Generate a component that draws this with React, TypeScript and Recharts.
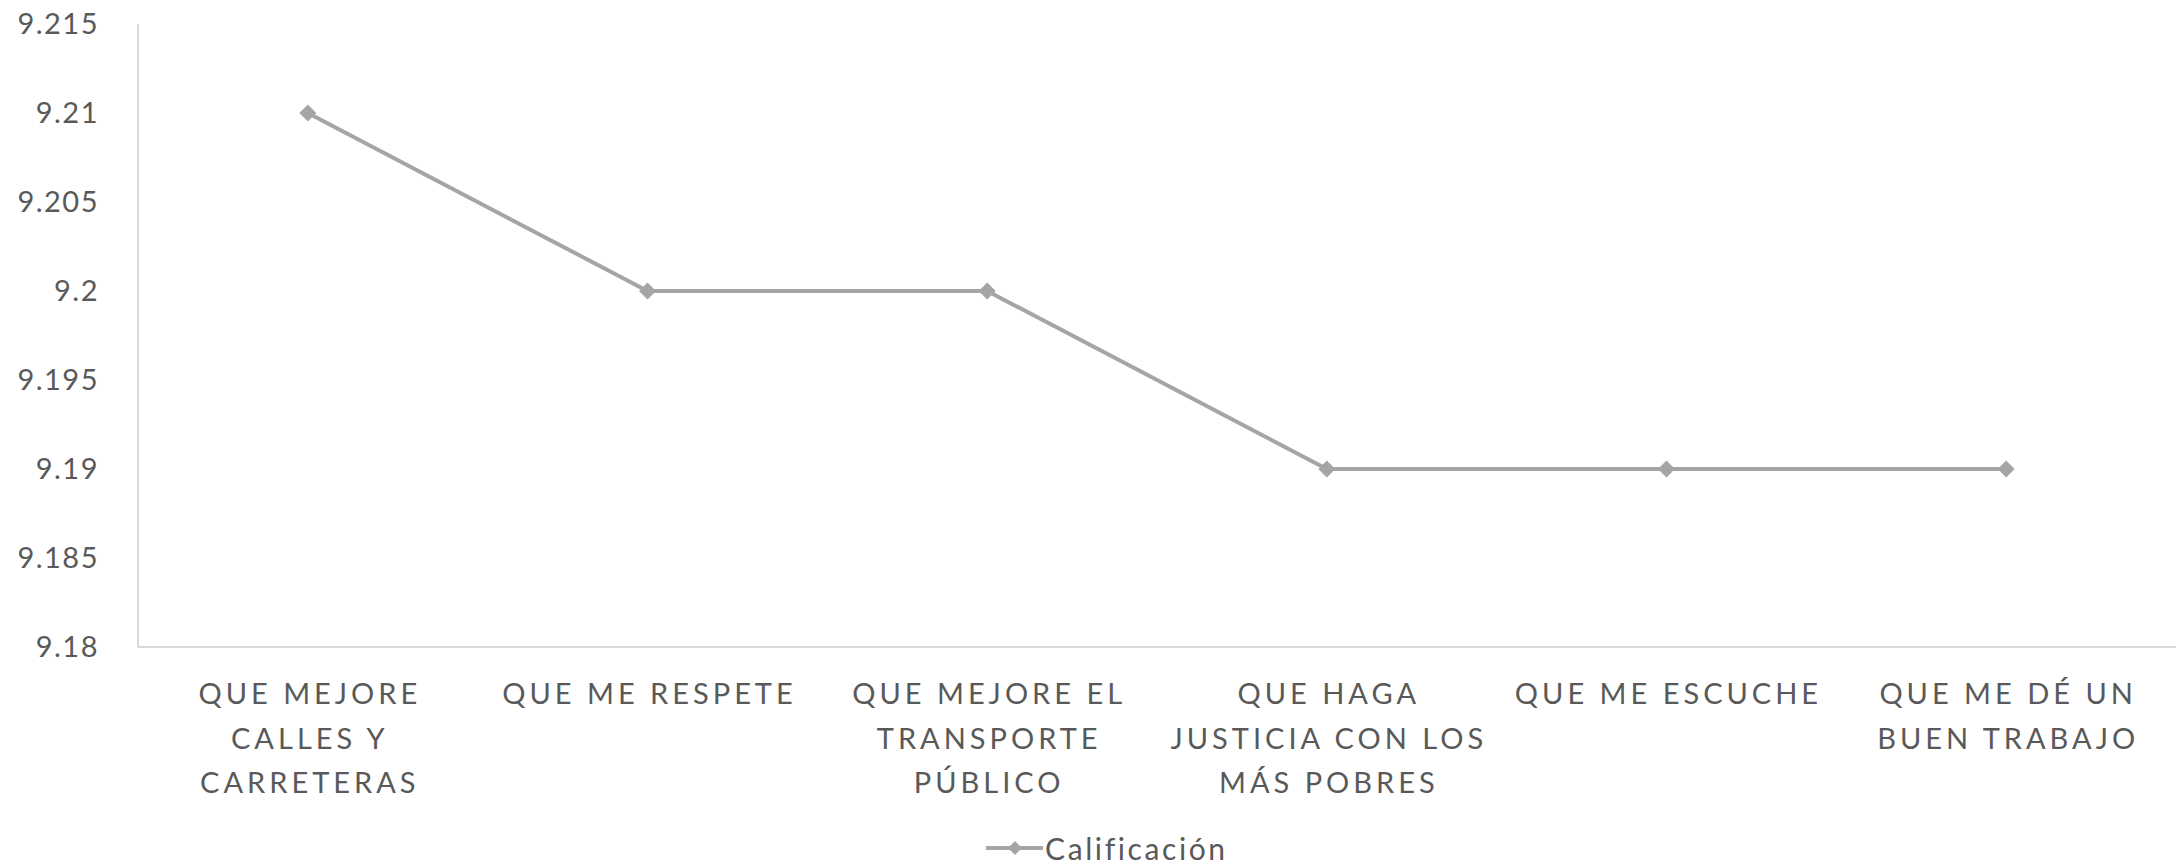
import React from "react";
import { LineChart, Line, XAxis, YAxis, Legend } from "recharts";

const categories = [
  "QUE MEJORE\nCALLES Y\nCARRETERAS",
  "QUE ME RESPETE",
  "QUE MEJORE EL\nTRANSPORTE\nPÚBLICO",
  "QUE HAGA\nJUSTICIA CON LOS\nMÁS POBRES",
  "QUE ME ESCUCHE",
  "QUE ME DÉ UN\nBUEN TRABAJO",
];
const calificacion = [9.21, 9.2, 9.2, 9.19, 9.19, 9.19];
const yTicks = [9.18, 9.185, 9.19, 9.195, 9.2, 9.205, 9.21, 9.215];
const seriesName = "Calificación";

const data = categories.map((name, i) => ({ name, value: calificacion[i] }));

const FONT = "Lato, 'Open Sans', sans-serif";
const TEXT = "#595959";
const LINE = "#A5A5A5";
const AXIS = "#D9D9D9";

// diamond marker; "size" is half the width (recharts passes its own r)
const Diamond = ({ cx, cy, size = 8.5 }: any) => {
  if (cx == null || cy == null) return null;
  return (
    <path
      d={`M${cx},${cy - size}L${cx + size},${cy}L${cx},${cy + size}L${cx - size},${cy}Z`}
      fill={LINE}
    />
  );
};

const CategoryTick = ({ x, y, payload }: any) => {
  const lines = String(payload.value).split("\n");
  return (
    <text
      x={x}
      y={y}
      textAnchor="middle"
      fill={TEXT}
      fontSize={29}
      fontFamily={FONT}
      letterSpacing={4}
    >
      {lines.map((line, i) => (
        <tspan key={i} x={x + 2} dy={i === 0 ? 57 : 44.5}>
          {line}
        </tspan>
      ))}
    </text>
  );
};

const LegendContent = () => (
  <div
    style={{
      display: "flex",
      alignItems: "center",
      height: 32,
      fontFamily: FONT,
      fontSize: 30,
      color: TEXT,
      letterSpacing: 2.6,
      whiteSpace: "nowrap",
    }}
  >
    <svg width={57} height={16} style={{ marginRight: 2 }}>
      <line x1={0} y1={8} x2={57} y2={8} stroke={LINE} strokeWidth={4} />
      <Diamond cx={29} cy={8} size={7} />
    </svg>
    <span>{seriesName}</span>
  </div>
);

export default function App() {
  return (
    <div style={{ position: "absolute", left: 0, top: 0 }}>
      <LineChart
        width={2178}
        height={866}
        data={data}
        margin={{ top: 24, right: 2, left: 0, bottom: 0 }}
      >
        <XAxis
          dataKey="name"
          scale="band"
          height={187}
          interval={0}
          axisLine={{ stroke: AXIS, strokeWidth: 2 }}
          tickLine={false}
          tickSize={0}
          tickMargin={0}
          tick={<CategoryTick />}
        />
        <YAxis
          width={138}
          domain={[9.18, 9.215]}
          ticks={yTicks}
          interval={0}
          axisLine={{ stroke: AXIS, strokeWidth: 2 }}
          tickLine={false}
          tickSize={0}
          tickMargin={39}
          tick={{ fill: TEXT, fontSize: 29, fontFamily: FONT, letterSpacing: 1.5 }}
        />
        <Legend
          verticalAlign="bottom"
          content={<LegendContent />}
          wrapperStyle={{ left: 986, bottom: 2, width: 320 }}
        />
        <Line
          dataKey="value"
          name={seriesName}
          stroke={LINE}
          strokeWidth={4}
          dot={<Diamond />}
          activeDot={false}
          isAnimationActive={false}
        />
      </LineChart>
    </div>
  );
}
